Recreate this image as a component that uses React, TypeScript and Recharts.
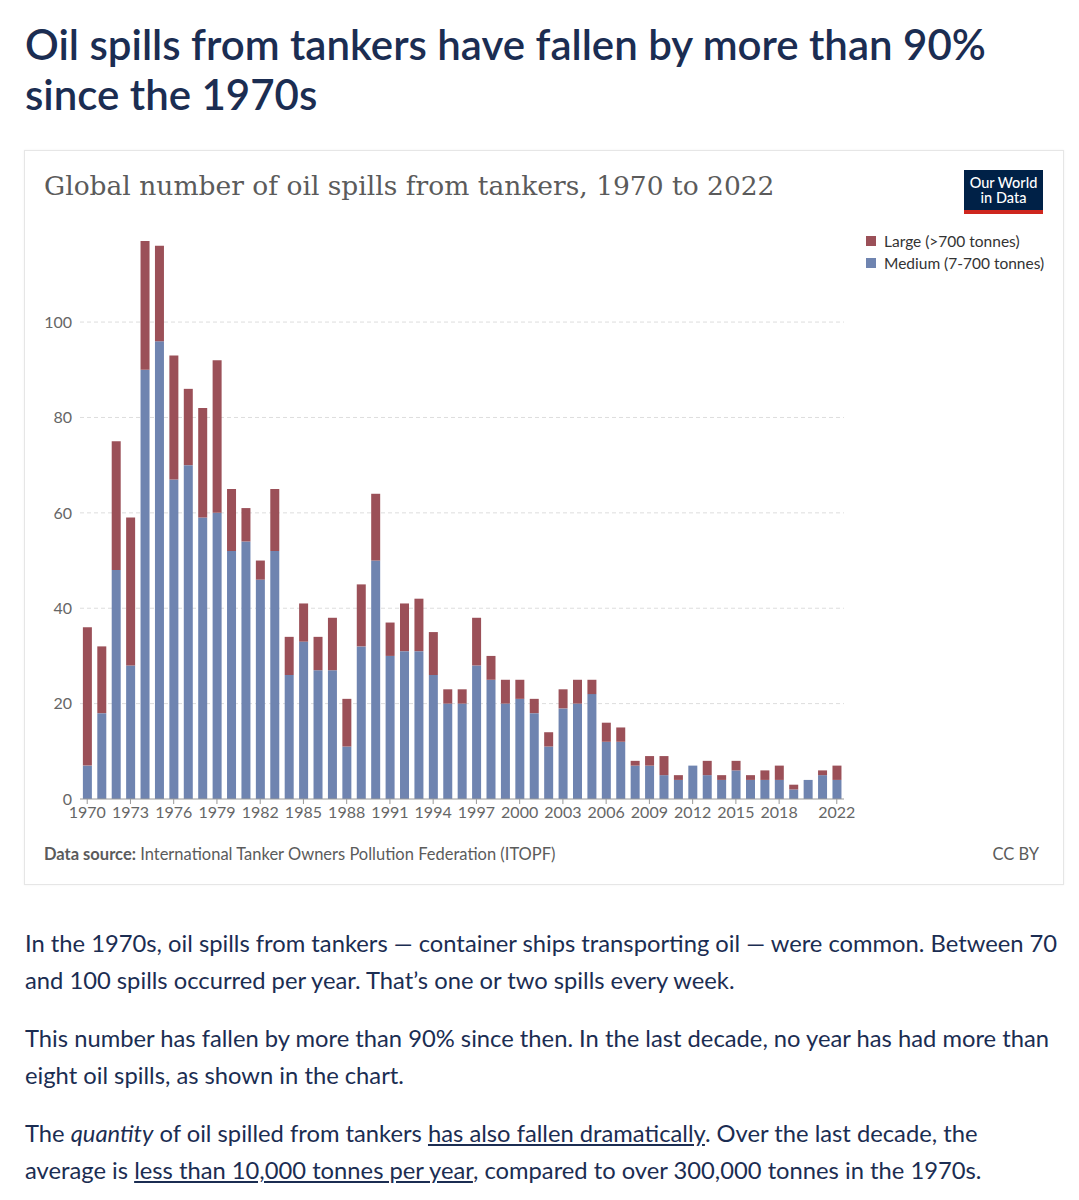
import { BarChart, Bar, XAxis, YAxis, CartesianGrid } from 'recharts'

const years = [
  1970, 1971, 1972, 1973, 1974, 1975, 1976, 1977, 1978, 1979,
  1980, 1981, 1982, 1983, 1984, 1985, 1986, 1987, 1988, 1989,
  1990, 1991, 1992, 1993, 1994, 1995, 1996, 1997, 1998, 1999,
  2000, 2001, 2002, 2003, 2004, 2005, 2006, 2007, 2008, 2009,
  2010, 2011, 2012, 2013, 2014, 2015, 2016, 2017, 2018, 2019,
  2020, 2021, 2022,
]
const medium = [
  7, 18, 48, 28, 90, 96, 67, 70, 59, 60,
  52, 54, 46, 52, 26, 33, 27, 27, 11, 32,
  50, 30, 31, 31, 26, 20, 20, 28, 25, 20,
  21, 18, 11, 19, 20, 22, 12, 12, 7, 7,
  5, 4, 7, 5, 4, 6, 4, 4, 4, 2,
  4, 5, 4,
]
const large = [
  29, 14, 27, 31, 27, 20, 26, 16, 23, 32,
  13, 7, 4, 13, 8, 8, 7, 11, 10, 13,
  14, 7, 10, 11, 9, 3, 3, 10, 5, 5,
  4, 3, 3, 4, 5, 3, 4, 3, 1, 2,
  4, 1, 0, 3, 1, 2, 1, 2, 3, 1,
  0, 1, 3,
]
const yTicks = [0, 20, 40, 60, 80, 100]
const gridValues = [20, 40, 60, 80, 100]
const xLabels = [1970, 1973, 1976, 1979, 1982, 1985, 1988, 1991, 1994, 1997, 2000, 2003, 2006, 2009, 2012, 2015, 2018, 2022]

const MEDIUM = '#6f84b0'
const LARGE = '#9b5058'
const NAVY = '#1b2d52'
const GREY = '#5b5b5b'

const data = years.map((y, i) => ({ year: y, medium: medium[i], large: large[i] }))

function YearTick(props: any) {
  const { x, y, payload } = props
  if (!xLabels.includes(payload.value)) return <g />
  return (
    <g>
      <line x1={x} x2={x} y1={y} y2={y + 5} stroke="#999" />
      <text x={x} y={y + 19} textAnchor="middle" fontSize={16} fill="#666" fontFamily="Lato">
        {payload.value}
      </text>
    </g>
  )
}

const sans = 'Lato, "Noto Sans", sans-serif'

export default function App() {
  return (
    <div style={{ position: 'relative', width: 1079, height: 1200, margin: -8, fontFamily: sans, background: '#fff', overflow: 'hidden' }}>
      <div style={{ position: 'absolute', left: 25, top: 19, fontSize: 42, lineHeight: '50px', fontWeight: 600, color: NAVY, whiteSpace: 'nowrap' }}>
        Oil spills from tankers have fallen by more than 90%<br />since the 1970s
      </div>

      <div style={{ position: 'absolute', left: 24, top: 150, width: 1038, height: 733, border: '1px solid #e6e6e6', boxShadow: '0 0 2px rgba(0,0,0,0.06)' }} />

      <div style={{ position: 'absolute', left: 44, top: 170, fontSize: 26.5, fontFamily: '"DejaVu Serif", serif', color: GREY, whiteSpace: 'nowrap' }}>
        Global number of oil spills from tankers, 1970 to 2022
      </div>

      <div style={{ position: 'absolute', left: 964, top: 170, width: 79, height: 44, background: '#002147', borderBottom: '4px solid #ce261e', boxSizing: 'border-box', color: '#fff', fontSize: 14.5, lineHeight: '15px', textAlign: 'center', paddingTop: 5, fontWeight: 500 }}>
        <div>Our World</div>
        <div>in Data</div>
      </div>

      <div style={{ position: 'absolute', left: 866, top: 230, fontSize: 15.5, color: '#333', lineHeight: '22px', whiteSpace: 'nowrap' }}>
        <div style={{ display: 'flex', alignItems: 'center' }}>
          <span style={{ width: 10, height: 10, background: LARGE, marginRight: 8, display: 'inline-block' }} />
          Large (&gt;700 tonnes)
        </div>
        <div style={{ display: 'flex', alignItems: 'center' }}>
          <span style={{ width: 10, height: 10, background: MEDIUM, marginRight: 8, display: 'inline-block' }} />
          Medium (7-700 tonnes)
        </div>
      </div>

      <div style={{ position: 'absolute', left: 0, top: 220 }}>
        <BarChart width={860} height={610} data={data} margin={{ top: 21, right: 16, left: 0, bottom: 6 }} barCategoryGap="20%">
          <CartesianGrid vertical={false} stroke="#ddd" strokeDasharray="4 3" horizontalValues={gridValues} />
          <XAxis
            dataKey="year"
            interval={0}
            tick={<YearTick />}
            tickLine={false}
            tickSize={0}
            tickMargin={0}
            height={25}
            axisLine={{ stroke: '#999' }}
          />
          <YAxis
            domain={[0, 117]}
            ticks={yTicks}
            width={80}
            axisLine={false}
            tickLine={false}
            tickSize={0}
            tickMargin={8}
            tick={{ fontSize: 16, fill: '#666', fontFamily: 'Lato' }}
          />
          <Bar dataKey="medium" stackId="a" fill={MEDIUM} isAnimationActive={false} />
          <Bar dataKey="large" stackId="a" fill={LARGE} isAnimationActive={false} />
        </BarChart>
      </div>

      <div style={{ position: 'absolute', left: 44, top: 844, fontSize: 16.5, color: GREY, whiteSpace: 'nowrap' }}>
        <b>Data source:</b> International Tanker Owners Pollution Federation (ITOPF)
      </div>
      <div style={{ position: 'absolute', right: 1079 - 1039, top: 844, fontSize: 16.5, color: GREY }}>CC BY</div>

      <div style={{ position: 'absolute', left: 25, top: 925, fontSize: 23.75, lineHeight: '37px', color: NAVY, whiteSpace: 'nowrap' }}>
        <p style={{ margin: 0 }}>
          In the 1970s, oil spills from tankers — container ships transporting oil — were common. Between 70<br />
          and 100 spills occurred per year. That’s one or two spills every week.
        </p>
        <p style={{ margin: '21px 0 0' }}>
          This number has fallen by more than 90% since then. In the last decade, no year has had more than<br />
          eight oil spills, as shown in the chart.
        </p>
        <p style={{ margin: '21px 0 0' }}>
          The <i>quantity</i> of oil spilled from tankers <u>has also fallen dramatically</u>. Over the last decade, the<br />
          average is <u>less than 10,000 tonnes per year</u>, compared to over 300,000 tonnes in the 1970s.
        </p>
      </div>
    </div>
  )
}
